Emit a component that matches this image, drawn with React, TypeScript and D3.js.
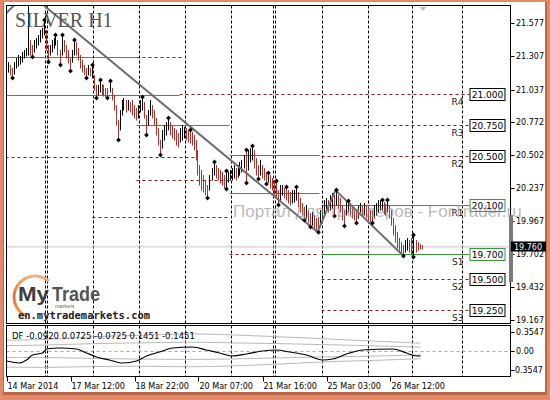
import React from "react";
import * as d3 from "d3";

// ---------- DATA ----------
const highs = [
  21.260, 21.236, 21.212, 21.260, 21.293, 21.317, 21.309, 21.342, 21.358, 21.374,
  21.830, 21.439, 21.398, 21.439, 21.455, 21.480, 21.520, 21.536, 21.601, 21.520,
  21.398, 21.398, 21.439, 21.455, 21.480, 21.439, 21.358, 21.480, 21.439, 21.398,
  21.358, 21.293, 21.358, 21.439, 21.423, 21.374, 21.317, 21.277, 21.236, 21.212,
  21.236, 21.212, 21.236, 21.155, 21.074, 21.074, 21.114, 21.082, 21.074, 21.049,
  21.049, 21.106, 21.049, 20.993, 20.911, 20.790, 20.871, 20.952, 20.968, 20.952,
  20.952, 20.936, 20.952, 20.911, 20.887, 20.911, 20.952, 20.976, 20.936, 20.830,
  20.871, 20.952, 20.911, 20.871, 20.806, 20.725, 20.627, 20.709, 20.749, 20.773,
  20.806, 20.773, 20.749, 20.725, 20.709, 20.684, 20.725, 20.749, 20.733, 20.725,
  20.709, 20.709, 20.692, 20.668, 20.627, 20.546, 20.424, 20.384, 20.343, 20.303,
  20.262, 20.343, 20.400, 20.449, 20.424, 20.400, 20.384, 20.368, 20.343, 20.376,
  20.368, 20.384, 20.400, 20.424, 20.400, 20.424, 20.449, 20.465, 20.506, 20.546,
  20.546, 20.562, 20.579, 20.546, 20.481, 20.424, 20.465, 20.424, 20.400, 20.368,
  20.359, 20.343, 20.319, 20.303, 20.294, 20.221, 20.262, 20.262, 20.238, 20.246,
  20.221, 20.205, 20.221, 20.221, 20.246, 20.205, 20.157, 20.116, 20.084, 20.100,
  20.059, 20.035, 20.043, 20.019, 19.994, 20.002, 20.059, 20.100, 20.140, 20.157,
  20.140, 20.181, 20.197, 20.181, 20.221, 20.181, 20.157, 20.100, 20.059, 20.124,
  20.132, 20.116, 20.100, 20.075, 20.059, 20.100, 20.116, 20.100, 20.116, 20.100,
  20.092, 20.059, 20.059, 20.100, 20.116, 20.140, 20.140, 20.140, 20.124, 20.108,
  20.140, 20.100, 20.059, 19.994, 19.937, 19.880, 19.832, 19.799, 19.775, 19.816,
  19.832, 19.816, 19.832, 19.856, 19.816, 19.799, 19.783, 19.775,
];
const lows = [
  21.179, 21.155, 21.131, 21.163, 21.212, 21.228, 21.244, 21.260, 21.293, 21.309,
  21.317, 21.317, 21.301, 21.342, 21.374, 21.398, 21.423, 21.455, 21.480, 21.358,
  21.260, 21.317, 21.342, 21.374, 21.398, 21.317, 21.236, 21.317, 21.342, 21.293,
  21.252, 21.187, 21.260, 21.317, 21.317, 21.277, 21.212, 21.179, 21.155, 21.131,
  21.155, 21.147, 21.131, 21.033, 20.968, 20.993, 21.017, 20.993, 20.984, 20.976,
  20.968, 21.017, 20.952, 20.871, 20.749, 20.627, 20.709, 20.830, 20.871, 20.855,
  20.871, 20.855, 20.830, 20.806, 20.790, 20.806, 20.855, 20.871, 20.806, 20.668,
  20.749, 20.830, 20.806, 20.749, 20.668, 20.587, 20.506, 20.562, 20.627, 20.668,
  20.709, 20.668, 20.644, 20.627, 20.587, 20.571, 20.611, 20.627, 20.644, 20.627,
  20.611, 20.603, 20.587, 20.546, 20.465, 20.343, 20.262, 20.221, 20.205, 20.181,
  20.157, 20.221, 20.303, 20.343, 20.319, 20.303, 20.278, 20.262, 20.238, 20.230,
  20.286, 20.303, 20.303, 20.319, 20.303, 20.327, 20.343, 20.368, 20.400, 20.278,
  20.384, 20.449, 20.465, 20.400, 20.343, 20.311, 20.343, 20.319, 20.303, 20.270,
  20.286, 20.238, 20.221, 20.181, 20.157, 20.100, 20.140, 20.181, 20.157, 20.140,
  20.116, 20.100, 20.116, 20.124, 20.140, 20.084, 20.043, 20.019, 19.978, 19.994,
  19.962, 19.921, 19.937, 19.913, 19.897, 19.880, 19.937, 19.994, 20.019, 20.043,
  20.043, 20.059, 20.075, 20.010, 20.100, 20.075, 20.043, 19.978, 19.929, 20.019,
  20.043, 20.019, 19.994, 19.978, 19.954, 19.994, 20.019, 20.010, 20.019, 19.994,
  19.978, 19.962, 19.954, 19.994, 20.019, 20.043, 20.059, 20.059, 20.027, 20.019,
  20.043, 19.994, 19.937, 19.856, 19.799, 19.751, 19.734, 19.702, 19.686, 19.718,
  19.734, 19.718, 19.694, 19.678, 19.718, 19.734, 19.743, 19.743,
];
const fractalHighBars = [18, 24, 27, 33, 42, 46, 51, 67, 80, 91, 103, 109, 119, 122, 130, 134, 139, 144, 164, 170, 187, 190, 203];
const fractalLowBars = [2, 12, 20, 26, 31, 39, 44, 50, 55, 69, 76, 100, 109, 119, 125, 129, 135, 148, 151, 155, 163, 168, 174, 182, 198, 203];

const zigzagBars = [-5, 10, 155, 164, 198];
const zigzagPrices = [21.585, 21.83, 19.88, 20.221, 19.686];

const priceTicks = [21.577, 21.307, 21.037, 20.772, 20.502, 20.237, 19.967, 19.702, 19.432, 19.167];
const currentPrice = 19.76;

const timeLabels = ["14 Mar 2014", "17 Mar 12:00", "18 Mar 22:00", "20 Mar 07:00", "21 Mar 16:00", "25 Mar 03:00", "26 Mar 12:00"];
const timeLabelBars = [0, 32, 64, 96, 128, 160, 192];
const separatorBars = [18.5, 19.5, 42.5, 65.5, 88.5, 111.5, 132.5, 133.5, 157, 180, 202.5, 227];

// pivot level segments: [fromBar, toBar, price]
const greenSegments = [
  [-1, 64.5, 21.301], [-1, 86, 20.993], [64.5, 111, 20.749], [111, 156, 20.506],
  [111, 156, 20.197], [157, 231, 20.1], [157, 231, 19.7],
];
const dashedSegments = [
  [64.5, 88.5, 21.301], [86, 231, 21.0], [157, 231, 20.75], [157, 231, 20.5],
  [-1, 93.5, 20.489], [64.5, 111, 20.303], [42.5, 111, 20.002], [111, 156, 19.702],
  [157, 231, 19.5], [157, 231, 19.25],
];
const levelNames = ["R4", "R3", "R2", "R1", "S1", "S2", "S3"];
const levelPrices = [21.0, 20.75, 20.5, 20.1, 19.7, 19.5, 19.25];
const levelGreen = [false, false, false, true, true, false, false];

const dfLegend = "DF -0.0920 0.0725 -0.0725 0.1451 -0.1451";
const dfTicks = [0.3547, 0.0, -0.3547];
const dfTickLabels = ["0.3547", "0.00", "-0.3547"];
const dfBars = [-0.5, 6, 9.5, 12.5, 17.5, 19.5, 26, 34.5, 39.5, 44.5, 51, 57.5, 64.5, 69.5, 76, 82.5, 92.5, 99.5, 106, 112.5, 119.5, 127.5, 134.5, 141, 149.5, 157.5, 162.5, 171, 177.5, 192.5, 199.5, 204.5, 206.5];
const dfValues = [-0.187, -0.224, -0.168, -0.075, -0.037, 0.037, 0.056, 0.037, -0.037, -0.112, -0.168, -0.224, -0.187, -0.093, -0.019, 0.056, 0.075, 0.019, -0.037, -0.093, -0.056, 0, 0.019, -0.019, -0.075, -0.168, -0.15, -0.037, 0.019, 0.037, -0.037, -0.093, -0.092];
const bandBars = [-0.5, 20, 42, 65, 92, 112, 134, 157, 180, 206.5];
const bandOuterUp = [0.2, 0.21, 0.27, 0.29, 0.33, 0.3, 0.27, 0.23, 0.19, 0.1451];
const bandInnerUp = [0.1, 0.11, 0.14, 0.15, 0.17, 0.15, 0.14, 0.12, 0.1, 0.0725];
const bandInnerDown = [-0.12, -0.12, -0.14, -0.15, -0.16, -0.15, -0.13, -0.11, -0.1, -0.0725];
const bandOuterDown = [-0.3, -0.31, -0.29, -0.28, -0.3, -0.28, -0.25, -0.2, -0.18, -0.1451];

// ---------- LAYOUT ----------
const W = 550, H = 400;
const plotL = 6.5, plotR = 510.5, plotT = 5.5, plotB = 323.5;
const lowT = 325.5, lowB = 376.5;
const AXFONT = "DejaVu Sans, Verdana, sans-serif";
const GREEN = "#3a963a";

export default function App() {
  const x = d3.scaleLinear().domain([0, 251]).range([7.5, 509.5]);
  const y = d3.scaleLinear().domain([19.167, 21.577]).range([320, 23]);
  const yl = d3.scaleLinear().domain([-0.3547, 0.3547]).range([370, 332]);

  const mids = highs.map((h, i) => (h + lows[i]) / 2);
  const zz = d3.line<number>().x((_, i) => x(zigzagBars[i])).y((p) => y(p));
  const dfLine = d3.line<number>().x((_, i) => x(dfBars[i])).y((v) => yl(v)).curve(d3.curveMonotoneX);
  const bandLine = d3.line<number>().x((_, i) => x(bandBars[i])).y((v) => yl(v)).curve(d3.curveBasis);

  const arc = d3.arc()({ innerRadius: 19.5, outerRadius: 22.5, startAngle: -2.75, endAngle: 0.72 } as any) as string;

  return (
    <svg width={W} height={H} style={{ position: "absolute", left: 0, top: 0, display: "block" }}>
      <defs>
        <clipPath id="mainClip"><rect x={plotL} y={plotT} width={plotR - plotL} height={plotB - plotT} /></clipPath>
        <clipPath id="lowClip"><rect x={plotL} y={lowT} width={plotR - plotL} height={lowB - lowT} /></clipPath>
        <linearGradient id="orangeArc" x1="0" y1="0" x2="0" y2="1">
          <stop offset="0" stopColor="#f6b47e" />
          <stop offset="0.5" stopColor="#e8742c" />
          <stop offset="1" stopColor="#f2a060" />
        </linearGradient>
      </defs>
      {/* frame */}
      <rect x={0} y={0} width={W} height={H} fill="#e3896a" />
      <rect x={3} y={2} width={544} height={393} fill="#b8684a" />
      <rect x={4} y={2} width={541} height={390} fill="#ffffff" />

      {/* main plot */}
      <g clipPath="url(#mainClip)">
        {separatorBars.map((b, i) => (
          <line key={"sep" + i} x1={Math.round(x(b)) + 0.5} x2={Math.round(x(b)) + 0.5} y1={plotT} y2={plotB} stroke="#000" strokeDasharray="3,2" strokeWidth={1} />
        ))}
        <line x1={plotL} x2={plotR} y1={y(currentPrice)} y2={y(currentPrice)} stroke="#c8c8c8" strokeWidth={1} />
        {greenSegments.map((s, i) => (
          <line key={"g" + i} x1={x(s[0])} x2={x(s[1])} y1={Math.round(y(s[2])) + 0.5} y2={Math.round(y(s[2])) + 0.5} stroke={GREEN} strokeWidth={1} />
        ))}
        {dashedSegments.map((s, i) => (
          <line key={"d" + i} x1={x(s[0])} x2={x(s[1])} y1={Math.round(y(s[2])) + 0.5} y2={Math.round(y(s[2])) + 0.5} stroke="#8b1a1a" strokeDasharray="3,3" strokeWidth={1} />
        ))}
        {highs.map((h, i) => {
          const down = i > 0 && mids[i] < mids[i - 1];
          const cx = Math.round(x(i)) + 0.5;
          return (
            <line key={"b" + i} x1={cx} x2={cx} y1={y(h)} y2={y(lows[i]) + 0.5} stroke={down ? "#a8332f" : "#000"} strokeWidth={1} />
          );
        })}
        <path d={zz(zigzagPrices) || ""} fill="none" stroke="#6f6f6f" strokeWidth={2} />
        {fractalHighBars.map((b) => {
          const cx = Math.round(x(b)) + 0.5, cy = y(highs[b]);
          return <path key={"fh" + b} d={`M${cx},${cy - 2.5}L${cx + 2.3},${cy}L${cx},${cy + 2.5}L${cx - 2.3},${cy}Z`} fill="#000" />;
        })}
        {fractalLowBars.map((b) => {
          const cx = Math.round(x(b)) + 0.5, cy = y(lows[b]);
          return <path key={"fl" + b} d={`M${cx},${cy - 2.5}L${cx + 2.3},${cy}L${cx},${cy + 2.5}L${cx - 2.3},${cy}Z`} fill="#000" />;
        })}
        <text x={15} y={27} fontFamily="Liberation Serif, Times New Roman, serif" fontSize={20} fill="#555">SILVER H1</text>
        {/* level labels */}
        {levelPrices.map((p, i) => {
          const ly = Math.round(y(p)) + 0.5;
          const bx = x(231) + 0.5;
          return (
            <g key={"lv" + i}>
              <rect x={bx} y={ly - 6} width={35} height={12} fill="#fff" stroke={levelGreen[i] ? GREEN : "#000"} strokeWidth={1} />
              <text x={bx + 17.5} y={ly + 3.5} textAnchor="middle" fontFamily={AXFONT} fontSize={9} fill="#000">{p.toFixed(3)}</text>
              <text x={x(227) + 2} y={ly + 10} textAnchor="end" fontFamily={AXFONT} fontSize={9} fill="#222">{levelNames[i]}</text>
            </g>
          );
        })}
        <path d={`M${x(206)},${7}L${x(209.5)},${7}L${x(207.75)},${11}Z`} fill="#bdbdbd" />
      </g>
      <rect x={plotL} y={plotT} width={plotR - plotL} height={plotB - plotT} fill="none" stroke="#000" strokeWidth={1} />

      {/* logo */}
      <path d={arc} transform="translate(35,297)" fill="url(#orangeArc)" />
      <text x={18} y={301} fontFamily="Liberation Sans, Arial, sans-serif" fontWeight="bold" fontSize={21} fill="#3d3d3d" textLength={31} lengthAdjust="spacingAndGlyphs">My</text>
      <text x={52} y={301} fontFamily="Liberation Sans, Arial, sans-serif" fontWeight="bold" fontSize={21} fill="#555" textLength={48} lengthAdjust="spacingAndGlyphs">Trade</text>
      <text x={55} y={308} fontFamily="Liberation Sans, Arial, sans-serif" fontSize={5.5} fill="#666">markets</text>
      <text x={18} y={319} fontFamily="DejaVu Sans Mono, monospace" fontWeight="bold" fontSize={11} fill="#222" textLength={132} lengthAdjust="spacingAndGlyphs">en.mytrademarkets.com</text>

      {/* right price axis */}
      {priceTicks.map((p, i) => (
        <g key={"pt" + i}>
          <line x1={plotR} x2={plotR + 4} y1={Math.round(y(p)) + 0.5} y2={Math.round(y(p)) + 0.5} stroke="#000" />
          <text x={516} y={y(p) + 3} fontFamily={AXFONT} fontSize={8} fill="#000">{p.toFixed(3)}</text>
        </g>
      ))}
      <rect x={509} y={215} width={4} height={67} fill="#7a7a7a" />
      <rect x={511} y={241.5} width={35} height={10} fill="#000" />
      <text x={514} y={249.5} fontFamily={AXFONT} fontSize={8} fill="#fff">{currentPrice.toFixed(3)}</text>

      {/* lower panel */}
      <g clipPath="url(#lowClip)">
        {separatorBars.map((b, i) => (
          <line key={"lsep" + i} x1={Math.round(x(b)) + 0.5} x2={Math.round(x(b)) + 0.5} y1={lowT} y2={lowB} stroke="#000" strokeDasharray="3,2" strokeWidth={1} />
        ))}
        <line x1={plotL} x2={plotR} y1={Math.round(yl(0)) + 0.5} y2={Math.round(yl(0)) + 0.5} stroke="#a8a8a8" strokeDasharray="3,3" />
        {[bandOuterUp, bandInnerUp, bandInnerDown, bandOuterDown].map((b, i) => (
          <path key={"band" + i} d={bandLine(b) || ""} fill="none" stroke="#b8b8b8" strokeWidth={1} />
        ))}
        <path d={dfLine(dfValues) || ""} fill="none" stroke="#000" strokeWidth={1.2} />
        <text x={12} y={339} fontFamily={AXFONT} fontSize={8.5} fill="#000">{dfLegend}</text>
      </g>
      <rect x={plotL} y={lowT} width={plotR - plotL} height={lowB - lowT} fill="none" stroke="#000" strokeWidth={1} />
      {dfTicks.map((v, i) => (
        <g key={"dt" + i}>
          <line x1={plotR} x2={plotR + 4} y1={Math.round(yl(v)) + 0.5} y2={Math.round(yl(v)) + 0.5} stroke="#000" />
          <text x={v < 0 ? 512 : 516} y={yl(v) + 3} fontFamily={AXFONT} fontSize={8} fill="#000">{dfTickLabels[i]}</text>
        </g>
      ))}

      {/* time axis */}
      {timeLabelBars.map((b, i) => (
        <g key={"tl" + i}>
          <line x1={Math.round(x(b)) + 0.5 - 1} x2={Math.round(x(b)) + 0.5 - 1} y1={lowB} y2={lowB + 5} stroke="#000" />
          <text x={x(b)} y={389} fontFamily={AXFONT} fontSize={8} fill="#000">{timeLabels[i]}</text>
        </g>
      ))}

      {/* watermark */}
      <text x={233} y={217} fontFamily="Liberation Sans, Arial, sans-serif" fontSize={17} fill="#8c8c8c" opacity={0.6}>Портал для трейдеров - ForTrader.ru</text>
    </svg>
  );
}
